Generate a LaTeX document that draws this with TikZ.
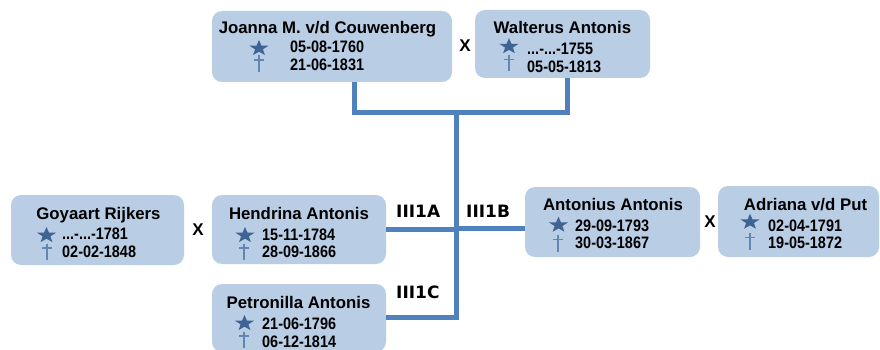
\documentclass[tikz,border=0pt]{standalone}
\usepackage{graphicx}
\usepackage{fontspec}
\setmainfont{Liberation Sans}
\newfontfamily\labfont{DejaVu Sans}
\definecolor{boxfill}{HTML}{B9CDE5}
\definecolor{linkblue}{HTML}{4F81BD}
\definecolor{starblue}{HTML}{3F6494}
\definecolor{crossblue}{HTML}{6286B2}
\newcommand\dte[1]{\scalebox{0.87}[1]{#1}}
\tikzset{
  person/.style={fill=boxfill, rounded corners=10pt, inner sep=0pt, outer sep=0pt},
  anchorbox/.style={inner sep=0pt, outer sep=0pt},
  pname/.style={anchor=base, inner sep=0pt, font=\fontsize{16.8}{18}\selectfont\bfseries},
  pdate/.style={anchor=base west, inner sep=0pt, font=\fontsize{16.6}{18}\selectfont\bfseries},
  marry/.style={inner sep=0pt, font=\fontsize{17}{19}\selectfont\bfseries},
  gen/.style={anchor=base west, inner sep=0pt, font=\labfont\fontsize{17}{19}\selectfont\bfseries},
  link/.style={draw=linkblue, line width=5pt},
  pics/birthmark/.style={code={
    \fill[starblue, yscale=0.83] (-90:10) -- (-54:4.1) -- (-18:10) -- (18:4.1) -- (54:10)
      -- (90:4.1) -- (126:10) -- (162:4.1) -- (198:10) -- (234:4.1) -- cycle;
  }},
  pics/deathmark/.style={code={
    \draw[crossblue, line width=1.7pt] (0,-8.5) -- (0,8);
    \draw[crossblue, line width=1.5pt] (-5,-4) -- (5,-4);
  }}
}
\begin{document}
\begin{tikzpicture}[x=1pt,y=-1pt]
\useasboundingbox (0,0) rectangle (880,350);
\clip (0,0) rectangle (880,350);
% boxes
\path[person] (212,11) rectangle (452,82);
\node[anchorbox, minimum width=240pt, minimum height=71pt] (joanna) at (332,46.5) {};
\path[person] (475,10) rectangle (650,78);
\node[anchorbox, minimum width=175pt, minimum height=68pt] (walterus) at (562.5,44) {};
\path[person] (11,195) rectangle (184,265);
\node[anchorbox, minimum width=173pt, minimum height=70pt] (goyaart) at (97.5,230) {};
\path[person] (212,195) rectangle (386,264);
\node[anchorbox, minimum width=174pt, minimum height=69pt] (hendrina) at (299,229.5) {};
\path[person] (212,284) rectangle (386,352);
\node[anchorbox, minimum width=174pt, minimum height=68pt] (petronilla) at (299,318) {};
\path[person] (525,187) rectangle (700,257);
\node[anchorbox, minimum width=175pt, minimum height=70pt] (antonius) at (612.5,222) {};
\path[person] (718,186) rectangle (879,257);
\node[anchorbox, minimum width=161pt, minimum height=71pt] (adriana) at (798.5,221.5) {};

% connectors
\coordinate (jd) at (354,113);
\coordinate (wd) at (567,113);
\coordinate (top) at (456,113);
\coordinate (hj) at (456,229);
\coordinate (pj) at (456,317);
\draw[link] (jd |- joanna.south) -- (jd) -- (wd) -- (wd |- walterus.south);
\draw[link] (top) -- (pj);
\draw[link, line join=miter] (petronilla.east |- pj) -- (pj) -- (hj);
\draw[link] (hendrina.east |- hj) -- (hj);
\draw[link] (hj |- 0,228) -- (antonius.west |- 0,228);

% generation labels
\node[gen] (la) at (396,217) {III1A};
\node[gen] (lb) at (466,217) {III1B};
\node[gen] (lc) at (396,298) {III1C};

% marriage marks
\node[marry] (x1) at (465,46) {X};
\node[marry] (x2) at (198,229.5) {X};
\node[marry] (x3) at (710,222) {X};

% Joanna
\node[pname] (jn) at (327.5,34) {Joanna M. v/d Couwenberg};
\pic (js) at (259,48.3) {birthmark};
\pic (jc) at (259,64) {deathmark};
\node[pdate] (jb) at (290,53) {\dte{05-08-1760}};
\node[pdate] (jx) at (290,71) {\dte{21-06-1831}};
% Walterus
\node[pname] (wn) at (562.5,34) {Walterus Antonis};
\pic (ws) at (509,46.5) {birthmark};
\pic (wc) at (509,63.5) {deathmark};
\node[pdate] (wb) at (527,55) {\dte{...-...-1755}};
\node[pdate] (wx) at (527,73) {\dte{05-05-1813}};
% Goyaart
\node[pname] (gn) at (98.5,219) {Goyaart Rijkers};
\pic (gs) at (46.5,235.3) {birthmark};
\pic (gc) at (47,252) {deathmark};
\node[pdate] (gb) at (62,239) {\dte{...-...-1781}};
\node[pdate] (gx) at (62,257) {\dte{02-02-1848}};
% Hendrina
\node[pname] (hn) at (299,219) {Hendrina Antonis};
\pic (hs) at (245,235.3) {birthmark};
\pic (hc) at (244,252) {deathmark};
\node[pdate] (hb) at (262,240) {\dte{15-11-1784}};
\node[pdate] (hx) at (262,257) {\dte{28-09-1866}};
% Petronilla
\node[pname] (pn) at (298.5,308) {Petronilla Antonis};
\pic (ps) at (244.5,323.3) {birthmark};
\pic (pc) at (244,340) {deathmark};
\node[pdate] (pb) at (262,329) {\dte{21-06-1796}};
\node[pdate] (px) at (262,347) {\dte{06-12-1814}};
% Antonius
\node[pname] (an) at (613,210) {Antonius Antonis};
\pic (as) at (558.5,225) {birthmark};
\pic (ac) at (558,243.5) {deathmark};
\node[pdate] (ab) at (575,231) {\dte{29-09-1793}};
\node[pdate] (ax) at (575,248) {\dte{30-03-1867}};
% Adriana
\node[pname] (dn) at (805.5,210) {Adriana v/d Put};
\pic (ds) at (750,222) {birthmark};
\pic (dc) at (750,241.5) {deathmark};
\node[pdate] (db) at (768,231) {\dte{02-04-1791}};
\node[pdate] (dx) at (768,248) {\dte{19-05-1872}};
\end{tikzpicture}
\end{document}
